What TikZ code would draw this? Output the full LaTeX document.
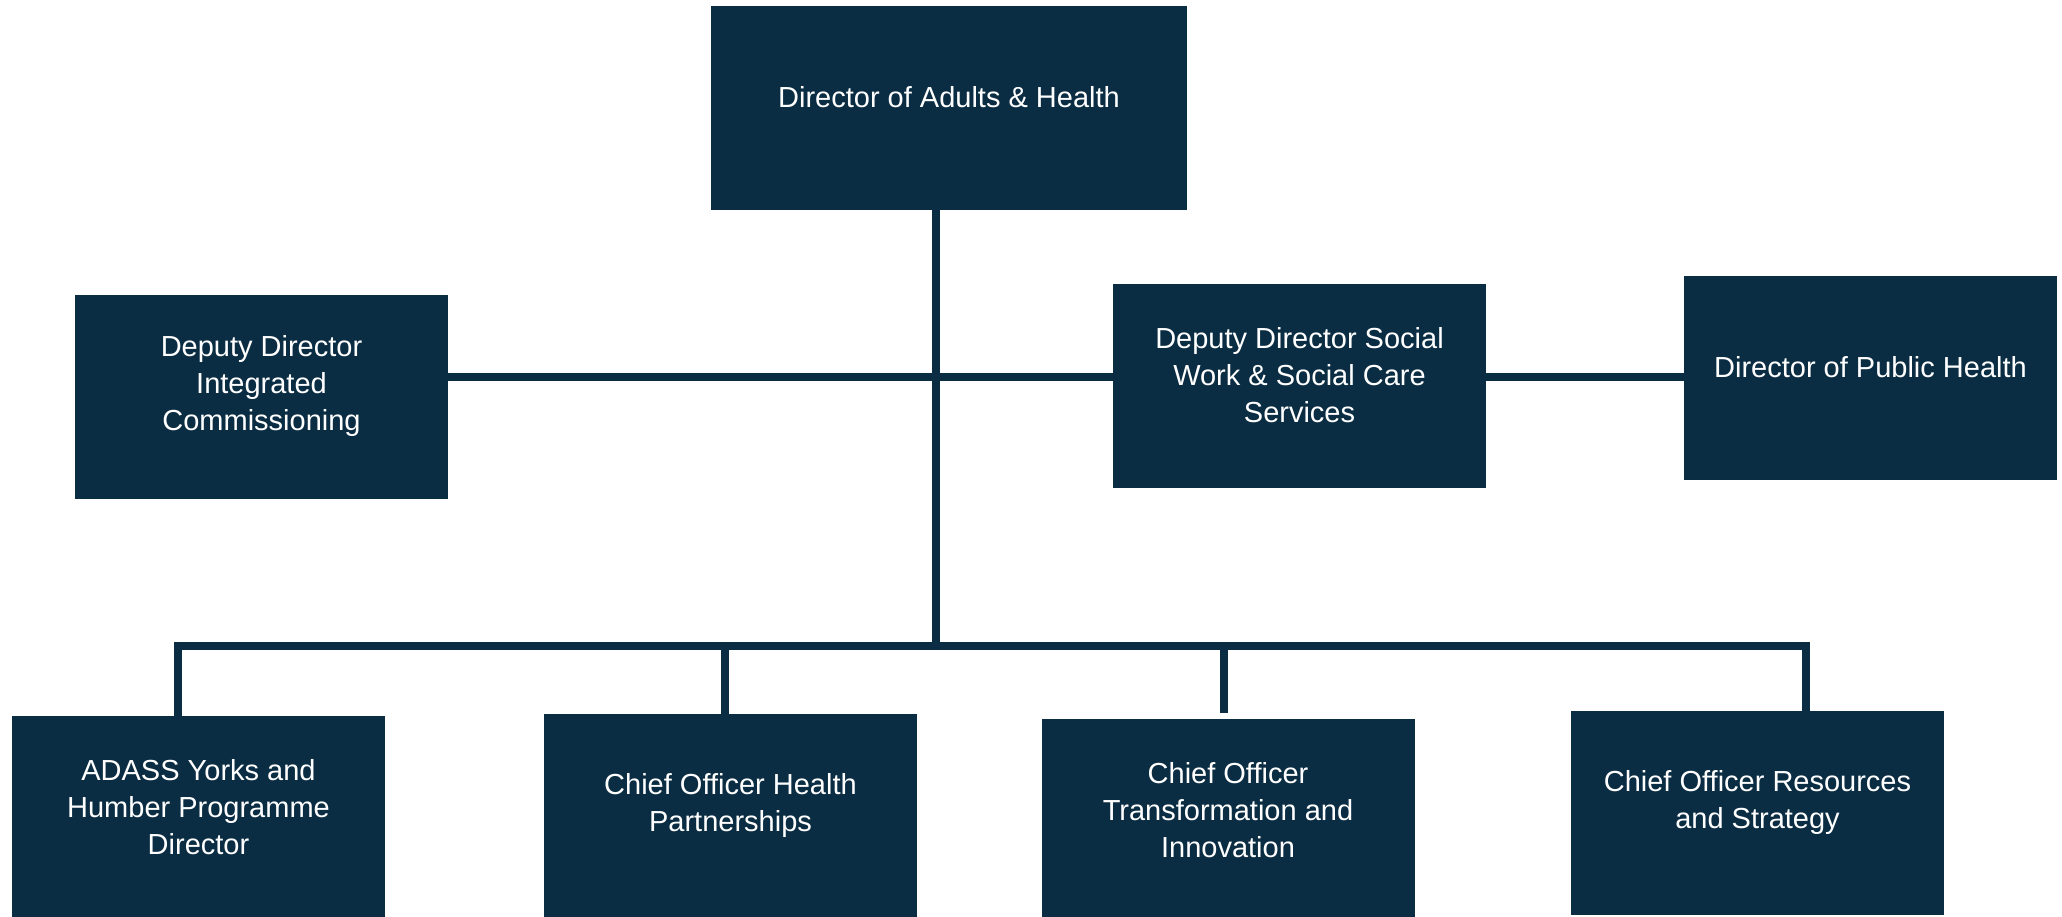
\documentclass[tikz,border=0pt]{standalone}
\usepackage{fontspec}
\setmainfont{Liberation Sans}
\usepackage{tikz}
\usetikzlibrary{calc,positioning}
\definecolor{navy}{RGB}{11,45,67}

\begin{document}
\begin{tikzpicture}[x=1pt,y=-1pt,
    unit/.style={fill=navy,rectangle,inner sep=0pt,minimum width=373pt,minimum height=204pt},
    tag/.style={text=white,align=center,font=\fontsize{29}{37}\selectfont,inner sep=0pt},
    link/.style={draw=navy,line width=8pt,line join=miter}]
                                \useasboundingbox (0,0) rectangle (2062,917);
                                \clip (0,0) rectangle (2062,917);
                                \node[unit,minimum width=476pt] (dah) at (949,108) {};
                                \node[unit] (ddic) at (261.5,397) {};
                                \node[unit] (ddsw) at (1299.5,386) {};
                                \node[unit] (dph) at (1870.5,378) {};

                                \node[unit] (adass) at (198.5,818) {};
                                \node[unit] (cohp) at (730.5,816) {};
                                \node[unit] (coti) at (1228,821) {};
                                \node[unit] (cors) at (1757.5,813) {};

                                \node[tag] (dahT) at ([yshift=11pt]dah.center) {Director of Adults \& Health};
                                \node[tag] (ddicT) at ([yshift=11pt]ddic.center) {Deputy Director\\Integrated\\Commissioning};
                                \node[tag] (ddswT) at ([yshift=11pt]ddsw.center) {Deputy Director Social\\Work \& Social Care\\Services};
                                \node[tag] (dphT) at ([yshift=11pt]dph.center) {Director of Public Health};
                                \node[tag] (adassT) at ([yshift=11pt]adass.center) {ADASS Yorks and\\Humber Programme\\Director};
                                \node[tag] (cohpT) at ([yshift=11pt]cohp.center) {Chief Officer Health\\Partnerships};
                                \node[tag] (cotiT) at ([yshift=11pt]coti.center) {Chief Officer\\Transformation and\\Innovation};
                                \node[tag] (corsT) at ([yshift=11pt]cors.center) {Chief Officer Resources\\and Strategy};

                                \coordinate (mid) at (936,377);
                                \coordinate (hub) at (936,646);
                                \coordinate (d1) at (178,646);
                                \coordinate (d2) at (725,646);
                                \coordinate (d3) at (1224,646);
                                \coordinate (d4) at (1806,646);

                                \draw[link] (dah.south -| hub) -- (hub);
                                \draw[link] (ddic.east |- mid) -- (ddsw.west |- mid);
                                \draw[link] (ddsw.east |- mid) -- (dph.west |- mid);
                                \draw[link] (adass.north -| d1) -- (d1) -- (d4) -- (cors.north -| d4);
                                \draw[link] (d2) -- (cohp.north -| d2);
                                \draw[link] (d3) -- ([yshift=6pt]coti.north -| d3);
                            \end{tikzpicture}
\end{document}
